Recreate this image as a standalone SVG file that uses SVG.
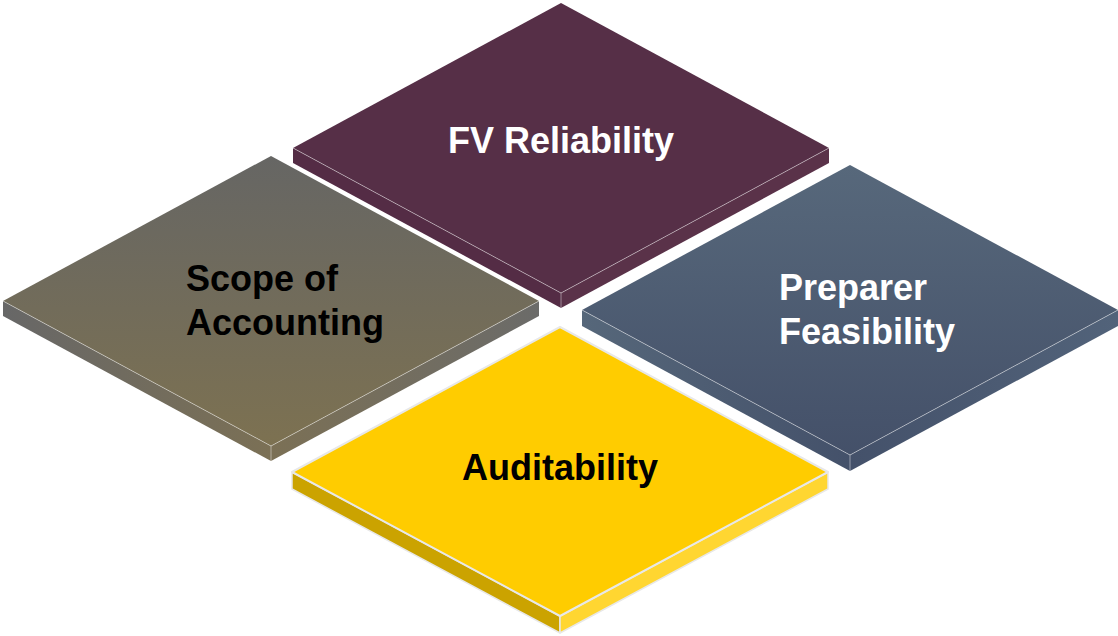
<svg xmlns="http://www.w3.org/2000/svg" width="1118" height="636" viewBox="0 0 1118 636">
  <defs>
    <linearGradient id="gScope" gradientUnits="userSpaceOnUse" x1="0" y1="156" x2="0" y2="462">
      <stop offset="0" stop-color="#666664"/>
      <stop offset="1" stop-color="#7E7250"/>
    </linearGradient>
    <linearGradient id="gScopeSide" gradientUnits="userSpaceOnUse" x1="3" y1="0" x2="539" y2="0">
      <stop offset="0" stop-color="#676767"/>
      <stop offset="0.5" stop-color="#7B7055"/>
      <stop offset="1" stop-color="#6B6B69"/>
    </linearGradient>
    <linearGradient id="gPrep" gradientUnits="userSpaceOnUse" x1="0" y1="165" x2="0" y2="471">
      <stop offset="0" stop-color="#57687B"/>
      <stop offset="1" stop-color="#434F68"/>
    </linearGradient>
    <linearGradient id="gPrepSide" gradientUnits="userSpaceOnUse" x1="582" y1="0" x2="1118" y2="0">
      <stop offset="0" stop-color="#56677A"/>
      <stop offset="0.5" stop-color="#44516A"/>
      <stop offset="1" stop-color="#52637A"/>
    </linearGradient>
  </defs>
  <style>
    .edge { fill: none; stroke: #ffffff; stroke-opacity: 0.55; stroke-width: 0.8; }
    .label { font-family: "Liberation Sans", Arial, sans-serif; font-weight: bold; font-size: 36px; }
    .light { fill: #ffffff; }
    .dark { fill: #000000; }
  </style>

  <rect width="1118" height="636" fill="#ffffff"/>

  <!-- top tile -->
  <g id="fv-reliability">
    <polygon points="293,148 561,293 561,308 293,163" fill="#542C45"/>
    <polygon points="561,293 829,148 829,163 561,308" fill="#5A3249"/>
    <polygon points="561,3 829,148 561,293 293,148" fill="#562F47"/>
    <polyline class="edge" points="293,148 561,293 829,148"/>
    <line class="edge" x1="561" y1="293" x2="561" y2="308"/>
    <text class="label light" x="561" y="153" text-anchor="middle">FV Reliability</text>
  </g>

  <!-- left tile -->
  <g id="scope-of-accounting">
    <polygon points="3,301 271,446 271,461 3,316" fill="url(#gScopeSide)"/>
    <polygon points="271,446 539,301 539,316 271,461" fill="url(#gScopeSide)"/>
    <polygon points="271,156 539,301 271,446 3,301" fill="url(#gScope)"/>
    <polyline class="edge" points="3,301 271,446 539,301"/>
    <line class="edge" x1="271" y1="446" x2="271" y2="461"/>
    <text class="label dark" x="186" y="291">Scope of</text>
    <text class="label dark" x="186" y="335">Accounting</text>
  </g>

  <!-- right tile -->
  <g id="preparer-feasibility">
    <polygon points="582,310 850,455 850,471 582,326" fill="url(#gPrepSide)"/>
    <polygon points="850,455 1118,310 1118,326 850,471" fill="url(#gPrepSide)"/>
    <polygon points="850,165 1118,310 850,455 582,310" fill="url(#gPrep)"/>
    <polyline class="edge" points="582,310 850,455 1118,310"/>
    <line class="edge" x1="850" y1="455" x2="850" y2="471"/>
    <text class="label light" x="779" y="300">Preparer</text>
    <text class="label light" x="779" y="344">Feasibility</text>
  </g>

  <!-- bottom tile -->
  <g id="auditability">
    <polygon points="292,472 560,616 560,633 292,489" fill="#CBA300" stroke="#E8E8E8" stroke-width="1.5" stroke-linejoin="round"/>
    <polygon points="560,616 828,472 828,489 560,633" fill="#FFD631" stroke="#E8E8E8" stroke-width="1.5" stroke-linejoin="round"/>
    <polygon points="560,327 828,472 560,616 292,472" fill="#FFCC00" stroke="#E8E8E8" stroke-width="2" stroke-linejoin="round"/>
    <text class="label dark" x="560" y="480" text-anchor="middle">Auditability</text>
  </g>
</svg>
